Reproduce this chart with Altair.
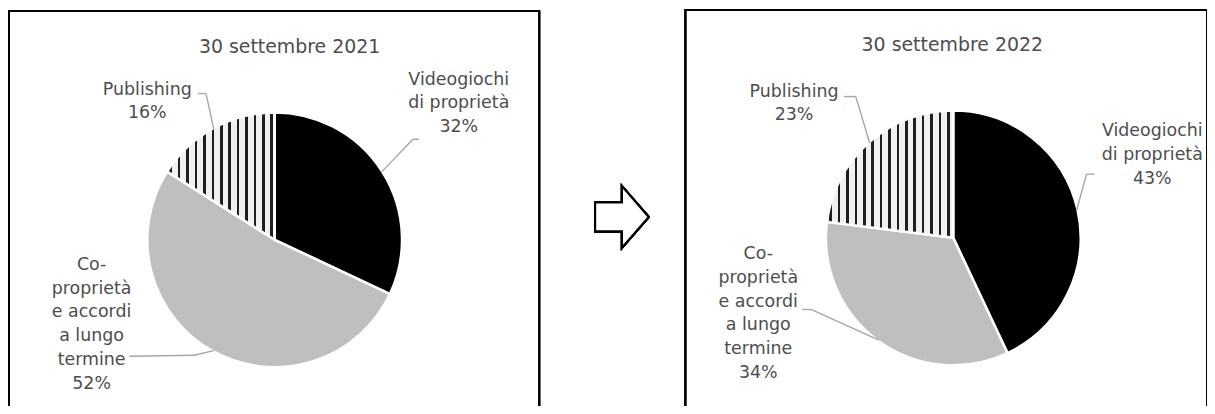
import math
import altair as alt
import pandas as pd

# ---------------- data ----------------
panels = ["30 settembre 2021", "30 settembre 2022"]
categories = ["Videogiochi di proprietà", "Co-proprietà e accordi a lungo termine", "Publishing"]
share_2021 = [32, 52, 16]
share_2022 = [43, 34, 23]
label_lines = {
    "Videogiochi di proprietà": ["Videogiochi", "di proprietà"],
    "Co-proprietà e accordi a lungo termine": ["Co-", "proprietà", "e accordi", "a lungo", "termine"],
    "Publishing": ["Publishing"],
}

# ---------------- layout (page pixels, converted below) ----------------
OFF = 8
W, H = 1205, 398
R = 128
LINE_H = 24
FONT = "DejaVu Sans"
TEXT_COLOR = "#4d4d4d"
LEADER_COLOR = "#a6a6a6"

pie_center = {panels[0]: (276, 240), panels[1]: (958, 238)}
title_pos = {panels[0]: (291, 46), panels[1]: (957, 44)}
# first-line centre of each label block
label_pos = {
    (panels[0], categories[0]): (461, 79),
    (panels[0], categories[1]): (92, 265),
    (panels[0], categories[2]): (148, 89),
    (panels[1], categories[0]): (1158, 131),
    (panels[1], categories[1]): (762, 254),
    (panels[1], categories[2]): (798, 91),
}
# leader elbow and end point
leader_pts = {
    (panels[0], categories[0]): ((415, 139), (421, 139)),
    (panels[0], categories[1]): ((195, 356), (130, 357)),
    (panels[0], categories[2]): ((207, 93), (199, 93)),
    (panels[1], categories[0]): ((1092, 174), (1100, 174)),
    (panels[1], categories[1]): ((815, 310), (806, 310)),
    (panels[1], categories[2]): ((860, 96), (848, 96)),
}
boxes = {panels[0]: (8, 542, 10), panels[1]: (688, 1213, 6)}

# ---------------- tables ----------------
shares = {panels[0]: share_2021, panels[1]: share_2022}
rows, text_rows = [], []
for p in panels:
    cx, cy = pie_center[p]
    for i, (c, v) in enumerate(zip(categories, shares[p])):
        (ex, ey), (tx, ty) = leader_pts[(p, c)]
        rows.append(dict(panel=p, category=c, value=v, order=i,
                         cx=cx - OFF, cy=cy - OFF,
                         ex=ex - OFF, ey=ey - OFF, tx=tx - OFF, ty=ty - OFF))
        lx, ly = label_pos[(p, c)]
        lines = label_lines[c] + [f"{v}%"]
        for k, t in enumerate(lines):
            text_rows.append(dict(panel=p, text=t, kind="label",
                                  x=lx - OFF, y=ly - OFF + k * LINE_H))
    tx_, ty_ = title_pos[p]
    text_rows.append(dict(panel=p, text=p, kind="title", x=tx_ - OFF, y=ty_ - OFF))

slices = pd.DataFrame(rows)
texts = pd.DataFrame(text_rows)

xs = alt.Scale(domain=[0, W], range=[0, W], nice=False, zero=False)
ys = alt.Scale(domain=[0, H], range=[0, H], nice=False, zero=False)
ts = alt.Scale(domain=[0, 100], range=[0, 2 * math.pi])

base = (
    alt.Chart(slices)
    .transform_window(cum="sum(value)", groupby=["panel"], sort=[alt.SortField("order")],
                      frame=[None, 0])
    .transform_calculate(t0="datum.cum - datum.value")
)

def arc_layer(cat, fill, panel=None):
    ch = base.transform_filter(alt.datum.category == cat)
    if panel is not None:
        ch = ch.transform_filter(alt.datum.panel == panel)
    return ch.mark_arc(radius=R, fill=fill, stroke="white", strokeWidth=2.5).encode(
        x=alt.X("cx:Q", scale=xs, axis=None),
        y=alt.Y("cy:Q", scale=ys, axis=None),
        theta=alt.Theta("t0:Q", scale=ts),
        theta2=alt.Theta2("cum:Q"),
    )

def stripes(width, d0, period=8.45, sw=2.6, dark="#1f1f1f", light="#f0f0f0"):
    cs = []
    c = width - d0
    while c - sw / 2 > 0:
        cs.append(c)
        c -= period
    cs.sort()
    stops = [alt.GradientStop(offset=0, color=light)]
    for c in cs:
        a = max(0.0, (c - sw / 2) / width)
        b = min(1.0, (c + sw / 2) / width)
        stops += [alt.GradientStop(offset=a, color=light), alt.GradientStop(offset=a, color=dark),
                  alt.GradientStop(offset=b, color=dark), alt.GradientStop(offset=b, color=light)]
    stops.append(alt.GradientStop(offset=1, color=light))
    return alt.LinearGradient(gradient="linear", stops=stops, x1=0, x2=1, y1=0, y2=0)

pub_layers = []
for p, d0 in zip(panels, [3.0, 5.0]):
    start_frac = (100 - shares[p][2]) / 100
    a0 = start_frac * 2 * math.pi
    bw = R if a0 <= 1.5 * math.pi else -R * math.sin(a0)
    pub_layers.append(arc_layer(categories[2], stripes(bw, d0), panel=p))

arcs = [arc_layer(categories[0], "#000000"), arc_layer(categories[1], "#bfbfbf")] + pub_layers

leader_base = base.transform_calculate(
    mid="(datum.t0 + datum.cum) / 200 * 2 * PI",
).transform_calculate(
    sx=f"datum.cx + {R - 1} * sin(datum.mid)",
    sy=f"datum.cy - {R - 1} * cos(datum.mid)",
)
leader1 = leader_base.mark_rule(color=LEADER_COLOR, strokeWidth=1.4).encode(
    x=alt.X("sx:Q", scale=xs, axis=None), y=alt.Y("sy:Q", scale=ys, axis=None),
    x2="ex:Q", y2="ey:Q",
)
leader2 = leader_base.mark_rule(color=LEADER_COLOR, strokeWidth=1.4).encode(
    x=alt.X("ex:Q", scale=xs, axis=None), y=alt.Y("ey:Q", scale=ys, axis=None),
    x2="tx:Q", y2="ty:Q",
)

def text_layer(kind, size):
    return alt.Chart(texts).transform_filter(alt.datum.kind == kind).mark_text(
        font=FONT, fontSize=size, color=TEXT_COLOR, align="center", baseline="middle"
    ).encode(
        x=alt.X("x:Q", scale=xs, axis=None),
        y=alt.Y("y:Q", scale=ys, axis=None),
        text="text:N",
    )

labels = text_layer("label", 17.5)
titles = text_layer("title", 19)

box_layers = []
for p in panels:
    x0, x1, y0 = boxes[p]
    box_layers.append(
        alt.Chart(slices).mark_rect(filled=False, stroke="#000000", strokeWidth=1.6).encode(
            x=alt.value(x0 - OFF + 0.8), x2=alt.value(x1 - OFF),
            y=alt.value(max(y0 - OFF, 0.8)), y2=alt.value(H + 40),
        )
    )

arrow_path = "M -0.87 -0.47 L 0 -0.47 L 0 -1 L 0.87 0 L 0 1 L 0 0.47 L -0.87 0.47 Z"
arrow = alt.Chart(slices).mark_point(
    shape=arrow_path, size=3844, filled=False, fill="white", stroke="black",
    strokeWidth=2.2, opacity=1,
).encode(x=alt.value(625 - OFF), y=alt.value(217 - OFF))

chart = alt.layer(*box_layers, *arcs, leader1, leader2, labels, titles, arrow).properties(
    width=W, height=H, padding=0, autosize=alt.AutoSizeParams(type="none")
).configure_view(strokeWidth=0)

chart.save("out.html", embed_options={"renderer": "svg", "actions": False})
